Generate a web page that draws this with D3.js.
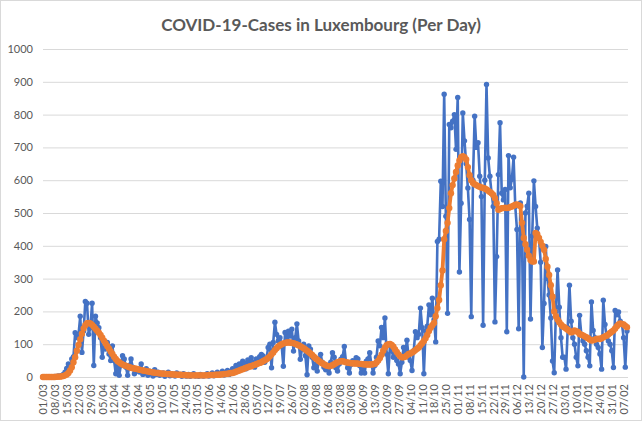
<!DOCTYPE html>
<html>
<head>
<meta charset="utf-8">
<script src="https://cdn.jsdelivr.net/npm/d3@7"></script>
<style>
  body { margin: 0; background: #fff; }
  text { font-family: Lato, "Liberation Sans", sans-serif; fill: #595959; }
</style>
</head>
<body>
<svg id="chart" width="644" height="423"></svg>
<script>
// chart title
const chartTitle = "COVID-19-Cases in Luxembourg (Per Day)";

// one label per week, first one is day 0 (01/03)
const tickLabels = ["01/03","08/03","15/03","22/03","29/03","05/04","12/04","19/04","26/04",
  "03/05","10/05","17/05","24/05","31/05","07/06","14/06","21/06","28/06","05/07","12/07",
  "19/07","26/07","02/08","09/08","16/08","23/08","30/08","06/09","13/09","20/09","27/09",
  "04/10","11/10","18/10","25/10","01/11","08/11","15/11","22/11","29/11","06/12","13/12",
  "20/12","27/12","03/01","10/01","17/01","24/01","31/01","07/02"];

const yTicks = [0,100,200,300,400,500,600,700,800,900,1000];

// new cases per day (blue), one row per week
const dailyCases = [
  0,0,0,0,1,0,1,
  2,0,3,2,5,8,15,
  26,40,30,55,62,135,120,
  130,185,75,140,230,225,130,
  150,225,35,185,165,150,120,
  60,95,85,105,70,50,95,
  50,10,40,5,35,65,55,
  30,5,35,55,30,10,25,
  20,15,40,8,12,25,5,
  18,10,3,22,8,15,5,
  10,12,2,8,15,4,10,
  6,3,12,5,8,2,10,
  4,3,8,2,6,10,3,
  5,2,8,4,3,6,10,
  3,6,12,4,8,15,5,
  10,18,6,12,20,8,15,
  25,18,35,22,40,30,48,
  42,25,52,38,59,45,30,
  55,48,62,69,64,45,55,
  90,100,28,105,167,130,110,
  120,95,33,136,115,140,125,
  146,79,120,162,110,54,85,
  100,65,7,95,85,60,28,
  40,18,55,69,45,30,22,
  35,12,45,74,60,28,18,
  40,54,62,93,45,28,12,
  38,50,42,59,55,35,12,
  30,12,48,55,74,40,12,
  35,60,110,95,151,120,180,
  70,10,95,80,60,70,50,
  40,10,45,90,75,112,60,
  50,20,80,138,120,130,210,
  150,10,140,155,220,190,240,
  175,107,413,420,597,520,862,
  490,194,770,760,780,800,694,
  852,320,530,805,720,650,576,
  480,184,600,795,700,714,612,
  550,158,600,892,668,612,560,
  520,168,367,617,775,560,540,
  572,138,675,577,603,670,520,
  450,147,531,420,0,500,521,
  560,177,430,598,520,454,424,
  350,90,224,398,300,250,180,
  49,13,200,326,213,120,60,
  60,24,150,280,170,120,100,
  60,34,188,130,110,100,80,
  60,34,229,142,120,100,90,
  70,24,234,160,121,110,100,
  80,29,203,190,198,170,162,
  120,30,140
];

// 7 day average (orange)
const avgCases = [
  0,0,0,0,0,0,0,
  0,1,1,1,2,3,5,
  8,12,20,30,45,60,80,
  98,115,132,148,158,164,165,
  163,159,153,147,141,135,128,
  120,111,102,94,86,78,70,
  62,55,49,45,41,38,36,
  34,32,30,28,27,26,25,
  24,22,21,20,19,18,17,
  16,15,14,13,12,12,11,
  11,10,10,9,9,9,8,
  8,8,7,7,7,6,6,
  6,5,5,5,5,5,5,
  5,5,5,5,5,5,5,
  6,6,6,6,7,7,7,
  8,8,9,9,10,11,12,
  12,14,16,18,20,22,24,
  26,28,30,32,33,35,37,
  39,41,43,45,48,51,54,
  58,63,69,75,82,88,93,
  97,100,102,104,105,105,105,
  104,103,101,99,97,94,91,
  88,84,80,76,72,67,62,
  57,53,49,45,42,39,36,
  34,33,34,36,39,42,45,
  47,48,48,47,45,44,43,
  42,42,41,41,41,40,40,
  39,39,38,38,38,38,39,
  40,44,50,58,68,80,90,
  97,100,101,98,92,84,76,
  69,63,60,60,62,66,70,
  72,75,78,82,86,90,97,
  103,110,118,128,140,150,158,
  165,185,210,235,280,325,420,
  445,470,515,560,585,605,625,
  645,660,670,673,670,663,640,
  615,600,592,588,585,582,580,
  578,576,575,572,568,564,560,
  555,545,530,510,512,515,515,
  516,515,516,518,520,522,525,
  526,524,521,470,424,405,388,
  370,357,352,352,439,435,424,
  412,400,388,360,336,311,280,
  245,200,185,175,167,160,155,
  152,148,144,140,136,138,142,
  140,137,131,129,127,124,121,
  118,114,111,112,114,116,117,
  116,118,121,124,126,130,134,
  138,142,148,155,160,163,162,
  160,156,152
];

const svg = d3.select("#chart");

// chart frame
svg.append("rect")
  .attr("x", 0.5).attr("y", 0.5)
  .attr("width", 641).attr("height", 420)
  .attr("fill", "#fff")
  .attr("stroke", "#d9d9d9");

const x = d3.scaleLinear().domain([0, dailyCases.length - 1]).range([43, 627]);
const y = d3.scaleLinear().domain([0, 1000]).range([377, 49]);

// title, shrunk to the width it has in the original
const title = svg.append("text")
  .attr("x", 321).attr("y", 31)
  .attr("text-anchor", "middle")
  .style("font-size", "18px")
  .style("font-weight", "bold")
  .text(chartTitle);
let tw = title.node().getComputedTextLength();
title.style("font-size", (18 * 320 / tw) + "px");

// gridlines
svg.append("g").selectAll("line")
  .data(yTicks)
  .join("line")
  .attr("x1", x.range()[0]).attr("x2", x.range()[1] + 1)
  .attr("y1", d => y(d) + 0.5).attr("y2", d => y(d) + 0.5)
  .attr("stroke", "#d9d9d9")
  .attr("stroke-width", 1);

// y labels
let yAxis = d3.axisLeft(y).tickValues(yTicks).tickFormat(d3.format("d")).tickSize(0).tickPadding(10);
let yg = svg.append("g").attr("transform", "translate(43,0)").call(yAxis);
yg.select(".domain").remove();
yg.selectAll("text").style("font-size", "11px").attr("fill", "#595959").style("font-family", null);

// x labels, one per week, rotated
let xAxis = d3.axisBottom(x)
  .tickValues(tickLabels.map((d, i) => i * 7))
  .tickFormat(d => tickLabels[d / 7])
  .tickSize(0);
let xg = svg.append("g").attr("transform", "translate(0,377)").call(xAxis);
xg.select(".domain").remove();
xg.selectAll("text")
  .attr("transform", "rotate(-90)")
  .attr("x", -7).attr("y", 0).attr("dy", "0.35em")
  .attr("text-anchor", "end")
  .attr("fill", "#595959")
  .style("font-family", null)
  .style("font-size", "11px");

const line = d3.line().x((d, i) => x(i)).y(d => y(d));

// daily cases
svg.append("path")
  .datum(dailyCases)
  .attr("d", line)
  .attr("fill", "none")
  .attr("stroke", "#4472C4")
  .attr("stroke-width", 2.6)
  .attr("stroke-linejoin", "round");
svg.append("g").selectAll("circle")
  .data(dailyCases)
  .join("circle")
  .attr("cx", (d, i) => x(i)).attr("cy", d => y(d))
  .attr("r", 2.7)
  .attr("fill", "#4472C4");

// average
svg.append("path")
  .datum(avgCases)
  .attr("d", line)
  .attr("fill", "none")
  .attr("stroke", "#ED7D31")
  .attr("stroke-width", 3.8)
  .attr("stroke-linejoin", "round");
svg.append("g").selectAll("circle")
  .data(avgCases)
  .join("circle")
  .attr("cx", (d, i) => x(i)).attr("cy", d => y(d))
  .attr("r", 3.2)
  .attr("fill", "#ED7D31");
</script>
</body>
</html>
